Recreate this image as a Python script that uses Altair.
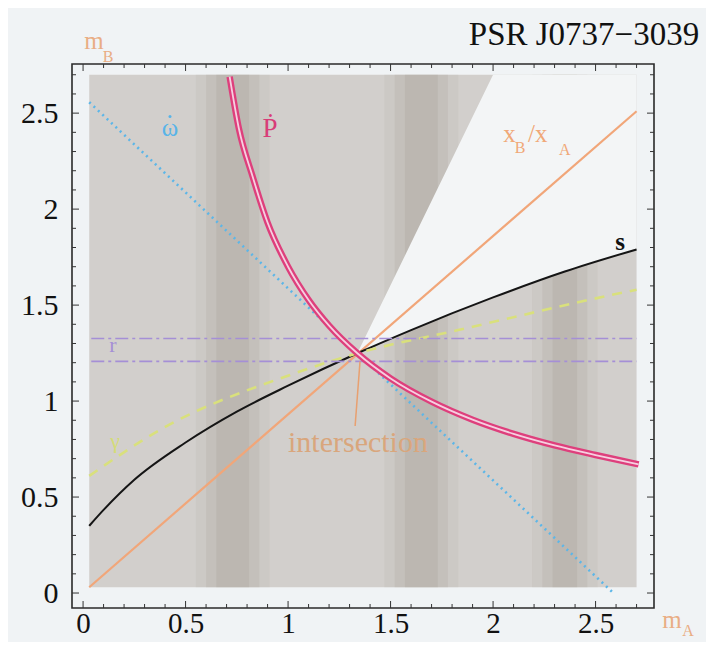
import altair as alt
import pandas as pd

# ---------------- data ----------------
# gray allowed-mass field and vertical scan bands (mA ranges)
field_mA = [0.03, 2.70]
field_mB = [0.03, 2.70]
band_lo = [0.58, 1.50, 2.22]
band_hi = [0.88, 1.80, 2.48]

# white wedge (between left boundary line and the s curve)
wedge_mA = [1.338, 1.6, 2.0, 2.35, 2.7]
wedge_low = [1.249, 1.37, 1.54, 1.675, 1.79]
wedge_high = [1.249, 1.823, 2.70, 2.70, 2.70]

# omega-dot (total mass) line
omega_mA = [0.03, 2.587]
omega_mB = [2.557, 0.0]

# Pdot curve
pdot_mA = [0.715, 0.76, 0.827, 0.9, 1.0, 1.1, 1.2, 1.338, 1.5, 1.7, 1.9, 2.1, 2.3, 2.5, 2.71]
pdot_mB = [2.69, 2.42, 2.17, 1.93, 1.70, 1.527, 1.393, 1.249, 1.118, 0.997, 0.903, 0.829, 0.769, 0.719, 0.67]

# Shapiro s curve
s_mA = [0.03, 0.1, 0.25, 0.5, 0.75, 1.0, 1.338, 1.6, 2.0, 2.35, 2.7]
s_mB = [0.35, 0.433, 0.59, 0.784, 0.945, 1.08, 1.249, 1.37, 1.54, 1.675, 1.79]

# mass ratio x_B/x_A line
ratio_mA = [0.03, 2.70]
ratio_mB = [0.03, 2.51]

# gamma curve
gamma_mA = [0.03, 0.375, 1.02, 1.338, 1.83, 2.61, 2.70]
gamma_mB = [0.61, 0.85, 1.14, 1.249, 1.37, 1.56, 1.58]

# Shapiro r range (two horizontal lines)
r_levels = [1.326, 1.207]
r_mA = [0.04, 2.70]

# intersection pointer
arrow_mA = [1.327, 1.351]
arrow_mB = [0.870, 1.207]

# ticks
major_ticks = [0, 0.5, 1, 1.5, 2, 2.5]
minor_ticks = [0.1, 0.2, 0.3, 0.4, 0.6, 0.7, 0.8, 0.9, 1.1, 1.2, 1.3, 1.4,
               1.6, 1.7, 1.8, 1.9, 2.1, 2.2, 2.3, 2.4, 2.6, 2.7]

# ---------------- styling ----------------
W, H = 582, 544
SERIF = "Liberation Serif"
xs = alt.Scale(domain=[-0.054, 2.785], nice=False, zero=False)
ys = alt.Scale(domain=[-0.078, 2.756], nice=False, zero=False)

xaxis = alt.Axis(values=major_ticks, format="~g", labelFont=SERIF, labelFontSize=29,
                 labelColor="#111", ticks=False, domain=False, grid=False, title=None,
                 labelPadding=1, labelFlush=False, labelOverlap=False)
yaxis = alt.Axis(values=major_ticks, format="~g", labelFont=SERIF, labelFontSize=30,
                 labelColor="#111", ticks=False, domain=False, grid=False, title=None,
                 labelPadding=14, labelFlush=False, labelOverlap=False)


def X(field="mA"):
    return alt.X(f"{field}:Q", scale=xs, axis=xaxis)


def Y(field="mB"):
    return alt.Y(f"{field}:Q", scale=ys, axis=yaxis)


field_df = pd.DataFrame({"mA": [field_mA[0]], "x2": [field_mA[1]],
                         "mB": [field_mB[0]], "y2": [field_mB[1]]})
field = alt.Chart(field_df).mark_rect(color="#d2cfcc").encode(
    x=X(), x2="x2", y=Y(), y2="y2")


def band_layer(shrink, color, opacity):
    df = pd.DataFrame({"mA": [b + shrink for b in band_lo],
                       "x2": [b - shrink for b in band_hi],
                       "mB": [field_mB[0]] * len(band_lo),
                       "y2": [field_mB[1]] * len(band_lo)})
    return alt.Chart(df).mark_rect(color=color, opacity=opacity).encode(
        x=X(), x2="x2", y=Y(), y2="y2")


bands = alt.layer(band_layer(-0.03, "#bdb7b1", 0.25),
                  band_layer(0.02, "#b3ada7", 0.3),
                  band_layer(0.07, "#aaa39c", 0.3))

wedge_df = pd.DataFrame({"mA": wedge_mA, "mB": wedge_low, "hi": wedge_high})
wedge = alt.Chart(wedge_df).mark_area(color="#f3f5f6", opacity=1).encode(
    x=X(), y=Y(), y2="hi")


def line_layer(mA, mB, **kw):
    df = pd.DataFrame({"mA": mA, "mB": mB})
    return alt.Chart(df).mark_line(**kw).encode(x=X(), y=Y())


ratio = line_layer(ratio_mA, ratio_mB, color="#f1a679", strokeWidth=2.2)
s_line = line_layer(s_mA, s_mB, color="#151515", strokeWidth=2, interpolate="monotone")
gamma = line_layer(gamma_mA, gamma_mB, color="#d9e07c", strokeWidth=2.6,
                   strokeDash=[10, 8], interpolate="monotone")
r_lines = alt.layer(*[
    line_layer(r_mA, [lv, lv], color="#a58fd6", strokeWidth=1.6, strokeDash=[13, 4, 3, 4])
    for lv in r_levels])
omega = line_layer(omega_mA, omega_mB, color="#5cb6e8", strokeWidth=2.6, strokeDash=[2, 4])
pdot_outer = line_layer(pdot_mA, pdot_mB, color="#de3f7c", strokeWidth=6.5, interpolate="monotone")
pdot_inner = line_layer(pdot_mA, pdot_mB, color="#f6cfe0", strokeWidth=1.8, interpolate="monotone")
arrow = line_layer(arrow_mA, arrow_mB, color="#e8a070", strokeWidth=1.5)


def label(text, mA, mB, color, size, weight="normal"):
    df = pd.DataFrame({"mA": [mA], "mB": [mB], "t": [text]})
    return alt.Chart(df).mark_text(color=color, fontSize=size, font=SERIF, fontWeight=weight,
                                   align="center", baseline="middle").encode(
        x=X(), y=Y(), text="t:N")


# dot over omega drawn as a small circle
omega_dot = alt.Chart(pd.DataFrame({"mA": [0.424], "mB": [2.425]})).mark_circle(
    color="#58b4e8", size=9, opacity=1, yOffset=-11).encode(x=X(), y=Y())

labels = alt.layer(
    label("ω", 0.424, 2.425, "#58b4e8", 25),
    label("Ṗ", 0.912, 2.415, "#d83c78", 27),
    label("x", 2.080, 2.389, "#f0a878", 25),
    label("B", 2.132, 2.318, "#f0a878", 16),
    label("/x", 2.218, 2.389, "#f0a878", 25),
    label("A", 2.350, 2.308, "#f0a878", 16),
    label("s", 2.62, 1.829, "#111111", 25, weight="bold"),
    label("r", 0.146, 1.29, "#a58fd6", 22),
    label("γ", 0.156, 0.793, "#d4dc78", 22),
    label("intersection", 1.341, 0.782, "#d9a67c", 30),
)


def outside(text, px, py, color, size):
    df = pd.DataFrame({"t": [text]})
    return alt.Chart(df).mark_text(color=color, fontSize=size, font=SERIF, align="center",
                                   baseline="middle").encode(
        x=alt.value(px), y=alt.value(py), text="t:N")


outer_text = alt.layer(
    outside("PSR J0737−3039", 512, -29, "#111111", 33),
    outside("m", 22, -23, "#e9ad84", 25),
    outside("B", 36, -7, "#e9ad84", 16),
    outside("m", 600, 556, "#e9ad84", 25),
    outside("A", 616, 567, "#e9ad84", 16),
)


# inward frame ticks on all four sides
def xticks(vals, length):
    df = pd.DataFrame({"mA": vals})
    bot = alt.Chart(df).mark_rule(color="#333", strokeWidth=1).encode(
        x=X(), y=alt.value(H), y2=alt.value(H - length))
    top = alt.Chart(df).mark_rule(color="#333", strokeWidth=1).encode(
        x=X(), y=alt.value(0), y2=alt.value(length))
    return bot + top


def yticks(vals, length):
    df = pd.DataFrame({"mB": vals})
    left = alt.Chart(df).mark_rule(color="#333", strokeWidth=1).encode(
        y=Y(), x=alt.value(0), x2=alt.value(length))
    right = alt.Chart(df).mark_rule(color="#333", strokeWidth=1).encode(
        y=Y(), x=alt.value(W), x2=alt.value(W - length))
    return left + right


ticks = alt.layer(xticks(major_ticks, 7), xticks(minor_ticks, 4),
                  yticks(major_ticks, 7), yticks(minor_ticks, 4))

chart = alt.layer(
    field, bands, wedge,
    ratio, s_line, gamma, r_lines, omega, pdot_outer, pdot_inner, arrow,
    omega_dot, labels, outer_text, ticks,
).properties(
    width=W, height=H,
    background="#f0f3f5",
    padding={"left": 64, "top": 56, "right": 52, "bottom": 34},
    autosize=alt.AutoSizeParams(type="none"),
).configure_view(stroke="#2a2a2a", strokeWidth=1.6)

chart.save("out.html", embed_options={"renderer": "svg", "actions": False})
